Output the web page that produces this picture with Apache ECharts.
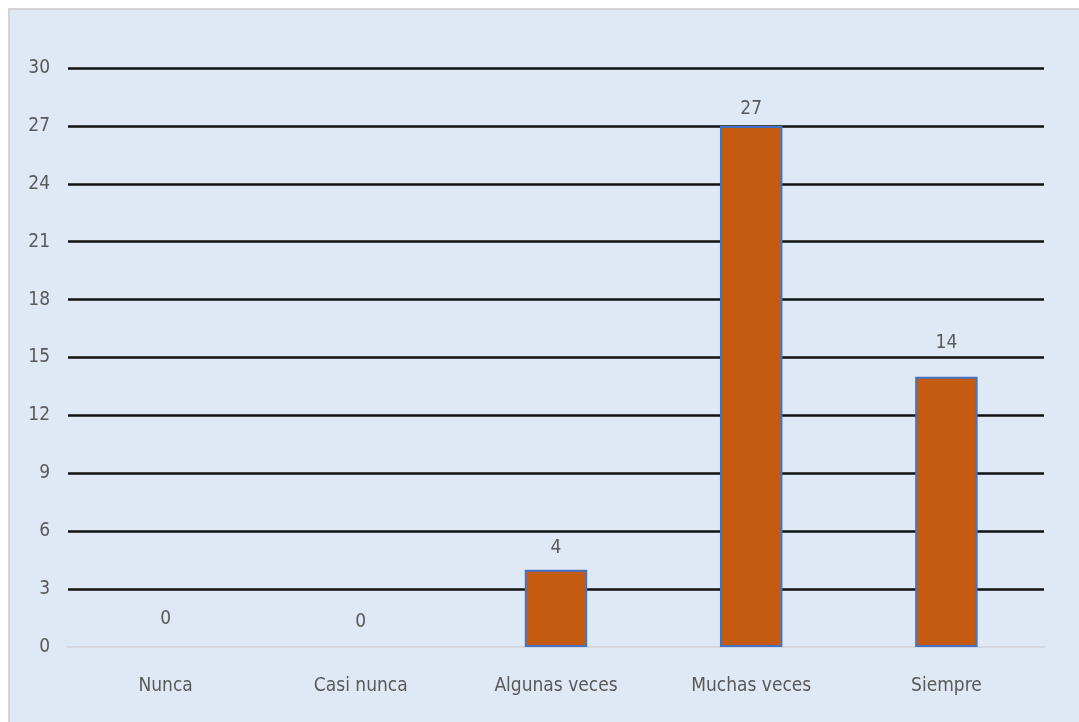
<!DOCTYPE html>
<html><head><meta charset="utf-8">
<script src="https://cdn.jsdelivr.net/npm/echarts@6/dist/echarts.min.js"></script>
<style>html,body{margin:0;padding:0;background:#fff;}#c{width:1079px;height:722px;}</style>
</head><body><div id="c"></div>
<script>
const categories = ['Nunca', 'Casi nunca', 'Algunas veces', 'Muchas veces', 'Siempre'];
const values = [0, 0, 4, 27, 14];
const yTicks = [0, 3, 6, 9, 12, 15, 18, 21, 24, 27, 30];
const labelGaps = [18, 15, 12, 7, 24];

const font = "'Liberation Sans Narrow', 'DejaVu Sans Condensed', sans-serif";
const chart = echarts.init(document.getElementById('c'));
chart.setOption({
  animation: false,
  backgroundColor: '#ffffff',
  graphic: [{
    type: 'rect', left: 8, top: 8, z: -10,
    shape: { width: 1071, height: 714 },
    style: { fill: '#dfe9f5', stroke: '#d4d4d4', lineWidth: 2 }
  }],
  grid: { left: 68, right: 35, top: 68, bottom: 75, containLabel: false },
  xAxis: {
    type: 'category', data: categories,
    axisLine: { show: true, lineStyle: { color: '#d3d6da', width: 2 } },
    axisTick: { show: false },
    axisLabel: { color: '#595959', fontFamily: font, fontSize: 19, margin: 30 }
  },
  yAxis: {
    type: 'value', min: yTicks[0], max: yTicks[yTicks.length - 1], interval: 3,
    axisLine: { show: false }, axisTick: { show: false },
    axisLabel: { color: '#595959', fontFamily: font, fontSize: 19, margin: 18 },
    splitLine: { show: true, showMinLine: false, lineStyle: { color: '#111111', width: 2.5 } }
  },
  series: [{
    type: 'bar', barWidth: '32%',
    data: values.map((v, i) => ({
      value: v,
      itemStyle: { borderWidth: v === 0 ? 0 : 2 },
      label: { distance: labelGaps[i] }
    })),
    itemStyle: { color: '#c55a11', borderColor: '#4472c4', borderWidth: 2 },
    label: { show: true, position: 'top', color: '#595959', fontFamily: font, fontSize: 19 }
  }]
});
</script></body></html>
